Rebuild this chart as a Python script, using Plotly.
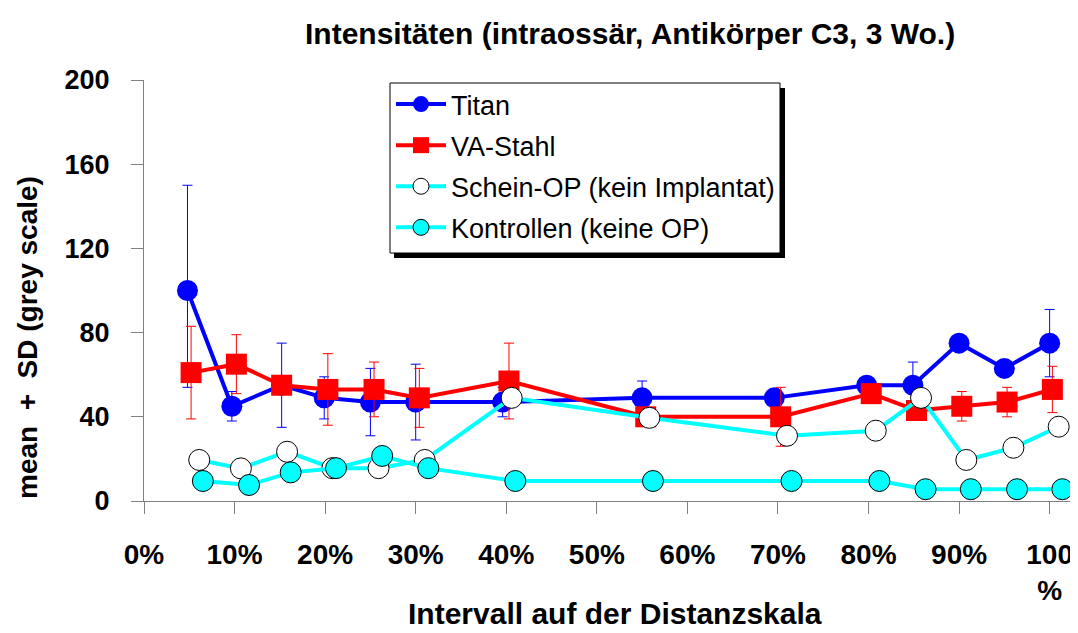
import plotly.graph_objects as go

# ---- data ----
x_titan = [4.8, 9.7, 15.2, 19.9, 25.0, 30.0, 39.6, 55.0, 69.6, 79.8, 84.9, 90.0, 95.0, 100.0]
titan = [100, 45, 55, 49, 47, 47, 47, 49, 49, 55, 55, 75, 63, 75]
titan_sd_plus = [50, 7, 20, 10, 16, 18, 7, 8, 3, 0, 11, 0, 0, 16]
titan_sd_minus = [46, 7, 20, 10, 16, 18, 7, 8, 3, 0, 11, 0, 0, 16]

x_va = [5.2, 10.2, 15.2, 20.3, 25.4, 30.4, 40.3, 55.4, 70.3, 80.3, 85.3, 90.3, 95.3, 100.3]
va = [61, 65, 55, 53, 53, 49, 57, 40, 40, 51, 43, 45, 47, 53]
va_sd = [22, 14, 0, 17, 13, 14, 18, 0, 14, 0, 0, 7, 7, 11]

x_schein = [6.1, 10.7, 15.8, 20.8, 25.9, 31.0, 40.6, 55.8, 71.0, 80.8, 85.8, 90.8, 96.0, 101.0]
schein = [19.5, 15.5, 23.4, 15.6, 15.6, 19.5, 49, 39.5, 31, 33.4, 49, 19.5, 25.3, 35.3]

x_kontr = [6.5, 11.6, 16.2, 21.2, 26.3, 31.4, 41.0, 56.2, 71.5, 81.2, 86.3, 91.3, 96.4, 101.4]
kontr = [9.5, 7.6, 13.6, 15.6, 21.4, 15.6, 9.5, 9.5, 9.5, 9.5, 5.6, 5.6, 5.6, 5.6]

x_tickvals = [0, 10, 20, 30, 40, 50, 60, 70, 80, 90, 100]
x_ticktext = ["0%", "10%", "20%", "30%", "40%", "50%", "60%", "70%", "80%", "90%", "100<br>%"]
y_tickvals = [0, 40, 80, 120, 160, 200]

names = ["Titan", "VA-Stahl", "Schein-OP (kein Implantat)", "Kontrollen (keine OP)"]
title_text = "Intensitäten (intraossär, Antikörper C3, 3 Wo.)"
x_title = "Intervall auf der Distanzskala"
y_title = "mean\u00a0\u00a0+\u00a0\u00a0SD (grey scale)"

FONT = "Liberation Sans, Arial, sans-serif"

fig = go.Figure()
fig.add_trace(go.Scatter(
    x=x_titan, y=titan, name=names[0], mode="lines+markers", legendgroup="a",
    line=dict(color="#0000FF", width=4),
    marker=dict(symbol="circle", size=21, color="#0000FF"),
    error_y=dict(type="data", symmetric=False, array=titan_sd_plus, arrayminus=titan_sd_minus,
                 color="#0000FF", thickness=1, width=5),
    cliponaxis=False))
fig.add_trace(go.Scatter(
    x=x_va, y=va, name=names[1], mode="lines+markers", legendgroup="b",
    line=dict(color="#FF0000", width=4),
    marker=dict(symbol="square", size=21, color="#FF0000"),
    error_y=dict(type="data", array=va_sd, color="#FF0000", thickness=1, width=5),
    cliponaxis=False))
fig.add_trace(go.Scatter(
    x=x_schein, y=schein, name=names[2], mode="lines+markers", legendgroup="c",
    line=dict(color="#00FFFF", width=4),
    marker=dict(symbol="circle", size=21, color="#FFFFFF", line=dict(color="#000000", width=1)),
    cliponaxis=False))
fig.add_trace(go.Scatter(
    x=x_kontr, y=kontr, name=names[3], mode="lines+markers", legendgroup="d",
    line=dict(color="#00FFFF", width=4),
    marker=dict(symbol="circle", size=21, color="#00FFFF", line=dict(color="#000000", width=1)),
    cliponaxis=False))

# page body has an 8px default margin -> figure occupies reference pixels 8..1078 / 8..633
OFF = 8
W, H = 1078 - OFF, 633 - OFF
PL, PR, PT, PB = 144, 1075, 80, 501   # plot area in reference pixels
L, R, T, B = PL - OFF, 1078 - PR, PT - OFF, 633 - PB
pw = PR - PL
ph = PB - PT

def px2x(p):
    return (p - PL) / pw

def px2y(p):
    return (PB - p) / ph

# legend box with shadow
fig.add_shape(type="rect", xref="paper", yref="paper", layer="above",
              x0=px2x(394), x1=px2x(785), y0=px2y(258), y1=px2y(88),
              fillcolor="#000000", line=dict(width=0))
fig.add_shape(type="rect", xref="paper", yref="paper", layer="above",
              x0=px2x(390), x1=px2x(780), y0=px2y(253), y1=px2y(83),
              fillcolor="#FFFFFF", line=dict(color="#000000", width=1))

fig.add_annotation(text=y_title, xref="paper", yref="paper",
                   x=px2x(27), y=px2y(338), textangle=-90, showarrow=False,
                   xanchor="center", yanchor="middle",
                   font=dict(family=FONT, size=28, color="#000000", weight="bold"))
fig.add_annotation(text=title_text, xref="paper", yref="paper",
                   x=px2x(630), y=px2y(33), showarrow=False,
                   xanchor="center", yanchor="middle",
                   font=dict(family=FONT, size=30, color="#000000", weight="bold"))
fig.add_annotation(text=x_title, xref="paper", yref="paper",
                   x=px2x(615), y=px2y(613), showarrow=False,
                   xanchor="center", yanchor="middle",
                   font=dict(family=FONT, size=30, color="#000000", weight="bold"))

fig.update_layout(
    width=W, height=H,
    margin=dict(l=L, r=R, t=T, b=B, autoexpand=False),
    paper_bgcolor="#FFFFFF", plot_bgcolor="#FFFFFF",
    font=dict(family=FONT, color="#000000"),
    showlegend=True,
    legend=dict(x=px2x(391), y=px2y(80), xanchor="left", yanchor="top",
                bgcolor="rgba(0,0,0,0)", borderwidth=0,
                font=dict(family=FONT, size=27, color="#000000"),
                itemwidth=50, tracegroupgap=3, traceorder="grouped"),
    xaxis=dict(range=[0, 102.8], tickvals=x_tickvals, ticktext=x_ticktext, automargin=False,
               showgrid=False, zeroline=False, showline=True, linecolor="#808080", linewidth=1,
               ticks="outside", ticklen=12, tickcolor="#808080", tickwidth=1,
               ticklabelstandoff=16,
               tickfont=dict(family=FONT, size=28, color="#000000", weight="bold")),
    yaxis=dict(range=[0, 200], tickvals=y_tickvals, automargin=False,
               showgrid=False, zeroline=False, showline=True, linecolor="#808080", linewidth=1,
               ticks="outside", ticklen=12, tickcolor="#808080", tickwidth=1,
               ticklabelstandoff=16,
               tickfont=dict(family=FONT, size=27, color="#000000", weight="bold")),
)

fig.write_html("out.html")
